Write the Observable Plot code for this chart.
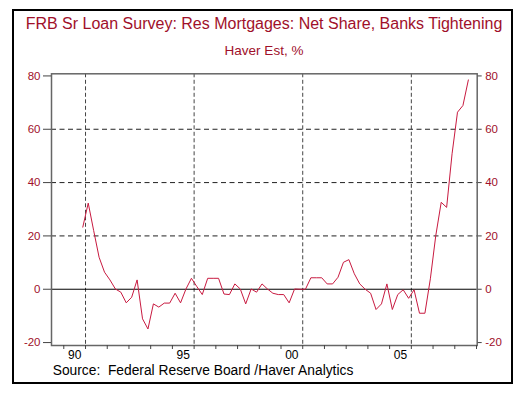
<!DOCTYPE html>
<html>
<head>
<meta charset="utf-8">
<script src="https://cdn.jsdelivr.net/npm/d3@7"></script>
<script src="https://cdn.jsdelivr.net/npm/@observablehq/plot@0.6"></script>
<style>
  html, body { margin: 0; padding: 0; background: #fff; }
  #wrap { position: relative; width: 520px; height: 397px; }
  #border { position: absolute; left: 11.5px; top: 9px; width: 497px; height: 371px; border: 2px solid #000; pointer-events: none; }
</style>
</head>
<body>
<div id="wrap"><div id="border"></div></div>
<script>
// ---- data (quarterly, net share of banks tightening, %) ----
const title = "FRB Sr Loan Survey: Res Mortgages: Net Share, Banks Tightening";
const subtitle = "Haver Est, %";
const source = "Source:  Federal Reserve Board /Haver Analytics";
const firstQuarter = 1990.875; // first observation (mid-quarter, decimal year)
const values = [
  23.3, 32.3, 22, 12, 6.4, 3.5, 0.1, -1.1, -5.1, -3,
  3.5, -11.1, -14.9, -5.5, -6.7, -5.2, -5.2, -1.5, -5.1, 0.1,
  4.1, 1, -2, 4.1, 4.1, 4.1, -1.8, -2, 2, 0.1,
  -5.5, 0.1, -1.1, 2, 0.1, -1.5, -2, -2, -5.1, 0.1,
  0, 0, 4.3, 4.3, 4.3, 2, 2, 4.5, 10.1, 11.1,
  5.8, 2, 0, -1.5, -7.6, -5.5, 2, -7.6, -2, -0.2,
  -3.4, -0.2, -9, -9, 3.9, 20.1, 32.6, 30.7, 50.8, 66.4,
  68.9, 78.5
];
const yTicks = [-20, 0, 20, 40, 60, 80];
const yGrid = [20, 40, 60];
const yearTicks = d3.range(1990, 2010);
const yearLabels = ["90", "95", "00", "05"];
const labelYears = [1990, 1995, 2000, 2005];
const vGrid = [1991, 1996, 2001, 2006];

const data = values.map((v, i) => ({t: firstQuarter + i * 0.25, v}));

const red = "#a0102a";
const plot = Plot.plot({
  width: 520,
  height: 397,
  marginLeft: 51,
  marginRight: 43.3,
  marginTop: 73.3,
  marginBottom: 52,
  style: {fontFamily: "'Liberation Sans', Arial, sans-serif", fontSize: "11.5px", background: "transparent", overflow: "visible"},
  x: {domain: [1989.434, 2009.032]},
  y: {domain: [-21.1, 80.8]},
  marks: [
    Plot.ruleY(yGrid, {stroke: "#222", strokeDasharray: "5,3.5", strokeWidth: 1}),
    Plot.ruleX(vGrid, {stroke: "#444", strokeDasharray: "4,2.5", strokeWidth: 1}),
    Plot.ruleY([0], {stroke: "#000", strokeWidth: 1}),
    Plot.line(data, {x: "t", y: "v", stroke: "#c81a40", strokeWidth: 1}),
    Plot.frame({stroke: "#666", strokeWidth: 1.5}),
    Plot.axisY({anchor: "left", ticks: yTicks, tickSize: 8, tickPadding: 3, stroke: "#444", fill: red, tickFormat: d => d, label: null}),
    Plot.axisY({anchor: "right", ticks: yTicks, tickSize: 4, tickPadding: 4, stroke: "#444", fill: red, tickFormat: d => d, label: null}),
    Plot.axisX({ticks: yearTicks, tickSize: 4, stroke: "#444", tickFormat: () => "", label: null}),
    Plot.axisX({ticks: labelYears.map(y => y + 0.5), tickSize: 0, tickPadding: 4.5, fill: "#000", fontSize: 12, tickFormat: (d, i) => yearLabels[i], label: null})
  ]
});

const svg = d3.select(plot);
svg.append("text").attr("x", 264).attr("y", 29.3).attr("text-anchor", "middle")
  .attr("fill", red).attr("font-size", 16).text(title);
svg.append("text").attr("x", 264).attr("y", 55).attr("text-anchor", "middle")
  .attr("fill", red).attr("font-size", 13.5).text(subtitle);
svg.append("text").attr("x", 52.7).attr("y", 375).attr("text-anchor", "start")
  .attr("fill", "#000").attr("font-size", 13.8).text(source);

document.getElementById("wrap").prepend(plot);
plot.style.position = "absolute";
plot.style.left = "0";
plot.style.top = "0";
</script>
</body>
</html>
